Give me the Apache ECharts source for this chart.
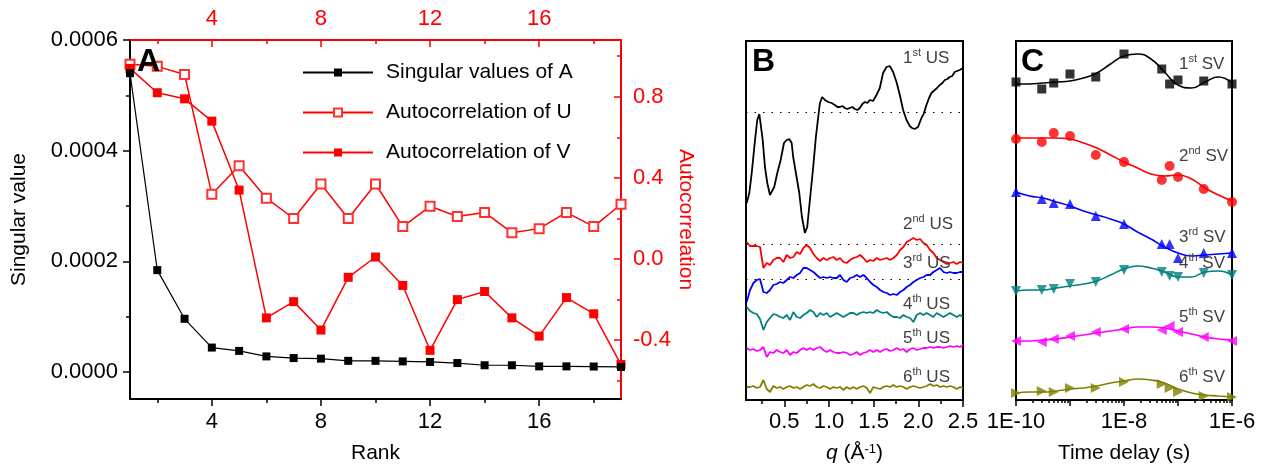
<!DOCTYPE html>
<html>
<head>
<meta charset="utf-8">
<script src="https://cdn.jsdelivr.net/npm/echarts@6/dist/echarts.min.js"></script>
<style>
  html, body { margin: 0; padding: 0; background: #fff; }
  #chart { width: 1263px; height: 465px; }
</style>
</head>
<body>
<div id="chart"></div>
<script>
// ---- panel A: SVD rank analysis ----
const ranks = [1, 2, 3, 4, 5, 6, 7, 8, 9, 10, 11, 12, 13, 14, 15, 16, 17, 18, 19]
const singularA = [0.00054, 0.000184, 0.000096, 0.000044, 0.000038, 0.000028, 0.000025, 0.000024, 0.000020, 0.000020,
  0.000019, 0.000018, 0.000016, 0.000012, 0.000012, 0.000010, 0.000010, 0.0000097, 0.000009]
const autoU = [0.96, 0.95, 0.91, 0.32, 0.46, 0.30, 0.20, 0.37, 0.20, 0.37, 0.16, 0.26, 0.21, 0.23, 0.13, 0.15, 0.23, 0.16, 0.27]
const autoV = [0.94, 0.82, 0.79, 0.68, 0.34, -0.29, -0.21, -0.35, -0.09, 0.01, -0.13, -0.45, -0.20, -0.16, -0.29, -0.38, -0.19, -0.27, -0.52]

const rankTicks = [4, 8, 12, 16]
const rankMinor = [2, 6, 10, 14, 18]
const svTicks = [0, 0.0002, 0.0004, 0.0006]
const svMinor = [0.0001, 0.0003, 0.0005]
const acTicks = [-0.4, 0, 0.4, 0.8]
const acMinor = [-0.6, -0.2, 0.2, 0.6, 1.0]

// ---- panel B: left singular vectors (offset, a.u.) ----
const qUS1 = [0.080, 0.109, 0.136, 0.173, 0.198, 0.221, 0.240, 0.259, 0.284, 0.310, 0.340, 0.359, 0.388, 0.422, 0.460,
  0.497, 0.527, 0.556, 0.583, 0.600, 0.638, 0.668, 0.698, 0.731, 0.757, 0.787, 0.824, 0.854, 0.880, 0.899, 0.925,
  0.940, 0.955, 0.970, 0.992, 1.010, 1.030, 1.048, 1.066, 1.094, 1.122, 1.150, 1.178, 1.206, 1.234, 1.262, 1.290,
  1.318, 1.346, 1.374, 1.402, 1.430, 1.457, 1.494, 1.532, 1.569, 1.606, 1.644, 1.681, 1.718, 1.756, 1.793, 1.830,
  1.868, 1.904, 1.930, 1.960, 1.997, 2.035, 2.060, 2.091, 2.120, 2.147, 2.184, 2.210, 2.240, 2.270, 2.296, 2.325,
  2.351, 2.380, 2.407, 2.435, 2.463, 2.500]
const us1 = [197, 207, 227, 260, 280, 286, 285, 260, 233, 217, 205, 207, 213, 227, 240,
  257, 260, 261, 257, 243, 223, 207, 183, 167, 173, 200, 233, 263, 283, 297, 303,
  301, 300, 302, 298, 296, 297, 298, 295, 293, 293, 294, 292, 291, 292, 293, 291,
  290, 292, 296, 298, 297, 300, 299, 305, 312, 327, 333, 334, 328, 318, 305, 290,
  280, 274, 272, 271, 273, 282, 286, 295, 302, 307, 310, 312, 315, 317, 320, 321,
  323, 324, 328, 329, 330, 332]

const qGrid = [0.080, 0.117, 0.155, 0.192, 0.229, 0.267, 0.304, 0.341, 0.378, 0.416,
  0.453, 0.490, 0.528, 0.565, 0.602, 0.640, 0.677, 0.714, 0.751, 0.789,
  0.826, 0.863, 0.901, 0.938, 0.975, 1.013, 1.050, 1.087, 1.124, 1.162,
  1.199, 1.236, 1.274, 1.311, 1.348, 1.386, 1.423, 1.460, 1.497, 1.535,
  1.572, 1.609, 1.647, 1.684, 1.721, 1.759, 1.796, 1.833, 1.870, 1.908,
  1.945, 1.982, 2.020, 2.057, 2.094, 2.132, 2.169, 2.206, 2.243, 2.281,
  2.318, 2.355, 2.393, 2.430, 2.467, 2.500]
const us2 = [158, 154, 154, 154, 153, 132, 137, 135, 140, 142,
  142, 138, 145, 142, 143, 148, 146, 152, 155, 152,
  146, 142, 139, 142, 140, 142, 143, 140, 142, 138,
  137, 140, 142, 143, 145, 142, 138, 140, 139, 142,
  140, 141, 142, 140, 142, 145, 150, 153, 158, 160,
  162, 160, 161, 157, 155, 150, 147, 142, 140, 138,
  136, 137, 138, 136, 138, 137]
const us3 = [98, 110, 117, 120, 121, 108, 107, 110, 115, 116,
  118, 117, 120, 123, 122, 125, 127, 132, 132, 130,
  128, 125, 122, 123, 122, 123, 122, 122, 125, 120,
  118, 122, 123, 125, 123, 125, 122, 118, 115, 113,
  110, 108, 107, 105, 106, 105, 108, 110, 113, 115,
  118, 120, 122, 123, 125, 125, 128, 130, 132, 128,
  127, 128, 127, 127, 128, 128]
const us4 = [93, 89, 87, 86, 81, 70, 78, 82, 86, 85,
  83, 82, 85, 80, 88, 83, 82, 85, 87, 90,
  88, 83, 87, 85, 87, 83, 85, 87, 85, 83,
  85, 87, 87, 85, 87, 88, 87, 88, 87, 90,
  88, 87, 88, 85, 83, 83, 82, 85, 83, 82,
  78, 85, 87, 85, 87, 85, 83, 87, 85, 83,
  85, 87, 85, 83, 85, 83]
const us5 = [52, 50, 51, 49, 50, 53, 43, 48, 47, 50,
  48, 47, 50, 45, 48, 47, 50, 52, 50, 52,
  50, 52, 53, 50, 48, 50, 48, 47, 47, 48,
  47, 45, 46, 48, 45, 47, 48, 50, 48, 50,
  48, 50, 51, 49, 50, 52, 50, 51, 48, 51,
  52, 50, 51, 52, 52, 53, 52, 53, 53, 52,
  53, 54, 53, 54, 53, 55]
const us6 = [13, 13, 14, 12, 13, 20, 11, 8, 14, 12,
  13, 11, 13, 14, 12, 13, 11, 13, 15, 14,
  16, 13, 12, 14, 13, 11, 13, 12, 13, 10,
  13, 11, 13, 11, 13, 14, 12, 7, 13, 12,
  11, 13, 14, 13, 15, 13, 14, 13, 11, 13,
  14, 13, 12, 13, 14, 16, 14, 15, 13, 14,
  13, 14, 13, 11, 13, 12]
const usBaselines = [288, 156, 121]

const qTicks = [0.5, 1.0, 1.5, 2.0, 2.5]
const qMinor = [0.25, 0.75, 1.25, 1.75, 2.25]

// ---- panel C: right singular vectors vs time delay ----
const tDelay = [1e-10, 3e-10, 5e-10, 1e-9, 3e-9, 1e-8, 5e-8, 7e-8, 1e-7, 3e-7, 1e-6]
const sv1 = [318, 311, 317, 326, 323, 346, 331, 316, 320, 319, 316]
const sv2 = [261, 258, 267, 264, 245, 238, 220, 234, 223, 211, 198]
const sv3 = [208, 201, 197, 196, 184, 176, 156, 156, 142, 147, 147]
const sv4 = [109, 110, 111, 116, 118, 130, 128, 124, 123, 127, 125]
const sv5 = [59, 58, 61, 64, 68, 71, 70, 74, 68, 63, 59]
const sv6 = [7, 9, 8, 12, 12, 18, 16, 12, 8, 4, 3]

const tFit = [1e-10, 1.78e-10, 3.16e-10, 5.62e-10, 1e-9, 1.78e-9, 3.16e-9, 5.62e-9, 1e-8,
  1.78e-8, 3.16e-8, 5.62e-8, 1e-7, 1.78e-7, 3.16e-7, 5.62e-7, 1e-6]
const fit1 = [316, 316, 317, 318, 319, 322, 327, 336, 344, 346, 341, 328, 315, 312, 318, 323, 317]
const fit2 = [262, 262, 262, 262, 261, 257, 252, 245, 238, 232, 226, 224, 225, 221, 212, 205, 199]
const fit3 = [208, 204, 202, 198, 194, 189, 185, 181, 176, 168, 161, 153, 147, 144, 145, 146, 147]
const fit4 = [109, 110, 110, 112, 114, 116, 119, 125, 131, 134, 132, 128, 123, 123, 128, 129, 125]
const fit5 = [59, 59, 60, 61, 63, 65, 67, 69, 71, 73, 73, 72, 69, 66, 63, 61, 60]
const fit6 = [7, 8, 8, 9, 11, 12, 14, 17, 19, 21, 20, 17, 11, 7, 5, 4, 3]

const tTicks = [1e-10, 1e-9, 1e-8, 1e-7, 1e-6]
const tLabels = [1e-10, 1e-8, 1e-6]
const tMinor = [2e-10, 3e-10, 4e-10, 5e-10, 6e-10, 7e-10, 8e-10, 9e-10,
  2e-9, 3e-9, 4e-9, 5e-9, 6e-9, 7e-9, 8e-9, 9e-9,
  2e-8, 3e-8, 4e-8, 5e-8, 6e-8, 7e-8, 8e-8, 9e-8,
  2e-7, 3e-7, 4e-7, 5e-7, 6e-7, 7e-7, 8e-7, 9e-7]

const FONT = 'Liberation Sans, Arial, sans-serif'
const usColors = ['#000000', '#ff0000', '#0000ff', '#008080', '#ff00ff', '#808000']

function zip (xs, ys) {
  return ys.map((y, i) => [xs[i], y])
}

// an axis that only draws ticks (and optionally labels) at given values
function ax (o) {
  const base = {
    type: 'value',
    splitLine: { show: false },
    axisLine: { show: false, onZero: false },
    axisTick: { show: false },
    axisLabel: { show: false }
  }
  return Object.assign(base, o)
}
function line (color) {
  return { show: true, onZero: false, lineStyle: { color: color, width: 2 } }
}
function ticks (values, len, inside, color) {
  return { show: true, customValues: values, length: len, inside: inside, lineStyle: { color: color, width: 1.5 } }
}
function labels (values, color, fmt, margin) {
  return { show: true, customValues: values, color: color, fontSize: 22, fontFamily: FONT, margin: margin, formatter: fmt }
}

const chart = echarts.init(document.getElementById('chart'), null, { renderer: 'canvas' })

const option = {
  animation: false,
  backgroundColor: '#fff',
  grid: [
    { left: 130, top: 40, width: 491, height: 359, outerBoundsMode: 'none' },
    { left: 746, top: 41, width: 217, height: 359, show: true, borderColor: '#000', borderWidth: 2, outerBoundsMode: 'none' },
    { left: 1016, top: 41, width: 216, height: 359, show: true, borderColor: '#000', borderWidth: 2, outerBoundsMode: 'none' }
  ],
  legend: {
    data: ['Singular values of A', 'Autocorrelation of U', 'Autocorrelation of V'],
    orient: 'vertical',
    left: 302,
    top: 62,
    padding: 0,
    itemWidth: 70,
    itemHeight: 10,
    itemGap: 19,
    textStyle: { fontSize: 21, color: '#000', fontFamily: FONT, padding: [0, 0, 0, 8] }
  },
  xAxis: [
    ax({ gridIndex: 0, position: 'bottom', min: 1, max: 19,
      axisLine: line('#000'), axisTick: ticks(rankTicks, 7, false, '#000'),
      axisLabel: labels(rankTicks, '#000', v => String(v), 12),
      name: 'Rank', nameLocation: 'middle', nameGap: 44,
      nameTextStyle: { fontSize: 21, color: '#000', fontFamily: FONT } }),
    ax({ gridIndex: 0, position: 'bottom', min: 1, max: 19, axisTick: ticks(rankMinor, 4, false, '#000') }),
    ax({ gridIndex: 0, position: 'top', min: 1, max: 19,
      axisLine: line('#ff0000'), axisTick: ticks(rankTicks, 7, true, '#ff0000'),
      axisLabel: labels(rankTicks, '#ff0000', v => String(v), 10) }),
    ax({ gridIndex: 0, position: 'top', min: 1, max: 19, axisTick: ticks(rankMinor, 4, true, '#ff0000') }),
    ax({ gridIndex: 1, position: 'bottom', min: 0.072, max: 2.5,
      axisTick: ticks(qTicks, 7, false, '#000'),
      axisLabel: labels(qTicks, '#000', v => v.toFixed(1), 11),
      name: '{i|q} (Å{s|-1})', nameLocation: 'middle', nameGap: 43,
      nameTextStyle: { fontSize: 21, color: '#000', fontFamily: FONT,
        rich: { i: { fontSize: 21, fontStyle: 'italic', fontFamily: FONT, color: '#000' },
          s: { fontSize: 13, verticalAlign: 'top', fontFamily: FONT, color: '#000' } } } }),
    ax({ gridIndex: 1, position: 'bottom', min: 0.072, max: 2.5, axisTick: ticks(qMinor, 4, false, '#000') }),
    ax({ gridIndex: 2, type: 'log', logBase: 10, position: 'bottom', min: 1e-10, max: 1e-6,
      axisTick: ticks(tTicks, 6, false, '#000'),
      axisLabel: labels(tLabels, '#000', v => '1E' + Math.round(Math.log10(v)), 11),
      name: 'Time delay (s)', nameLocation: 'middle', nameGap: 43,
      nameTextStyle: { fontSize: 21, color: '#000', fontFamily: FONT } }),
    ax({ gridIndex: 2, type: 'log', logBase: 10, position: 'bottom', min: 1e-10, max: 1e-6,
      axisTick: ticks(tMinor, 3, false, '#000') })
  ],
  yAxis: [
    ax({ gridIndex: 0, position: 'left', min: -0.000049, max: 0.0006,
      axisLine: line('#000'), axisTick: ticks(svTicks, 7, false, '#000'),
      axisLabel: labels(svTicks, '#000', v => v.toFixed(4), 12),
      name: 'Singular value', nameLocation: 'middle', nameGap: 100,
      nameTextStyle: { fontSize: 21, color: '#000', fontFamily: FONT } }),
    ax({ gridIndex: 0, position: 'right', min: -0.69, max: 1.08,
      axisLine: line('#ff0000'), axisTick: ticks(acTicks, 7, true, '#ff0000'),
      axisLabel: labels(acTicks, '#ff0000', v => v.toFixed(1), 12),
      name: 'Autocorrelation', nameLocation: 'middle', nameGap: 52, nameRotate: -90,
      nameTextStyle: { fontSize: 21, color: '#ff0000', fontFamily: FONT } }),
    ax({ gridIndex: 0, position: 'left', min: -0.000049, max: 0.0006, axisTick: ticks(svMinor, 4, false, '#000') }),
    ax({ gridIndex: 0, position: 'right', min: -0.69, max: 1.08, axisTick: ticks(acMinor, 4, true, '#ff0000') }),
    ax({ gridIndex: 1, min: 0, max: 359 }),
    ax({ gridIndex: 2, min: 0, max: 359 })
  ],
  series: [],
  graphic: []
}

// panel A
option.series.push(
  { name: 'Singular values of A', type: 'line', xAxisIndex: 0, yAxisIndex: 0, data: zip(ranks, singularA),
    symbol: 'rect', symbolSize: 8, itemStyle: { color: '#000' }, lineStyle: { color: '#000', width: 1.2 }, z: 3 },
  { name: 'Autocorrelation of U', type: 'line', xAxisIndex: 0, yAxisIndex: 1, data: zip(ranks, autoU),
    symbol: 'emptyRect', symbolSize: 9, itemStyle: { color: '#ff3030', borderWidth: 1.2 },
    lineStyle: { color: '#ff0000', width: 1.5 }, z: 2 },
  { name: 'Autocorrelation of V', type: 'line', xAxisIndex: 0, yAxisIndex: 1, data: zip(ranks, autoV),
    symbol: 'rect', symbolSize: 9, itemStyle: { color: '#ff0000' }, lineStyle: { color: '#ff0000', width: 1.5 }, z: 2 }
)

// panel B
const usData = [zip(qUS1, us1), zip(qGrid, us2), zip(qGrid, us3), zip(qGrid, us4), zip(qGrid, us5), zip(qGrid, us6)]
usData.forEach((d, i) => {
  const s = { type: 'line', xAxisIndex: 4, yAxisIndex: 4, data: d, showSymbol: false,
    lineStyle: { color: usColors[i], width: 1.8 }, z: 3 }
  if (i < usBaselines.length) {
    s.markLine = { silent: true, symbol: 'none', label: { show: false },
      lineStyle: { color: '#000', width: 1.2, type: [1.5, 7] }, data: [{ yAxis: usBaselines[i] }] }
  }
  option.series.push(s)
})

// panel C
const svData = [sv1, sv2, sv3, sv4, sv5, sv6]
const fitData = [fit1, fit2, fit3, fit4, fit5, fit6]
const svSymbols = ['rect', 'circle', 'triangle', 'triangle', 'triangle', 'triangle']
const svRotate = [0, 0, 0, 180, 90, -90]
svData.forEach((d, i) => {
  option.series.push({ type: 'line', xAxisIndex: 6, yAxisIndex: 5, data: zip(tFit, fitData[i]), smooth: true,
    showSymbol: false, lineStyle: { color: usColors[i], width: 1.6 }, z: 2 })
  option.series.push({ type: 'scatter', xAxisIndex: 6, yAxisIndex: 5, data: zip(tDelay, d),
    symbol: svSymbols[i], symbolRotate: svRotate[i], symbolSize: i === 0 ? 9 : 10,
    itemStyle: { color: usColors[i] }, z: 3 })
})

// panel letters and vector labels
const letterStyle = { font: 'bold 32px ' + FONT, fill: '#000' }
option.graphic.push(
  { type: 'text', x: 137, y: 46, style: Object.assign({ text: 'A' }, letterStyle), z: 10 },
  { type: 'text', x: 752, y: 46, style: Object.assign({ text: 'B' }, letterStyle), z: 10 },
  { type: 'text', x: 1021, y: 46, style: Object.assign({ text: 'C' }, letterStyle), z: 10 }
)
const ords = [['1', 'st'], ['2', 'nd'], ['3', 'rd'], ['4', 'th'], ['5', 'th'], ['6', 'th']]
const usLabelY = [57, 223, 262, 303, 337, 376]
const svLabelY = [63, 155, 236, 262, 316, 376]
const rich = {
  n: { fontSize: 17, fontFamily: FONT, fill: '#404040', verticalAlign: 'bottom', lineHeight: 20 },
  s: { fontSize: 11, fontFamily: FONT, fill: '#404040', verticalAlign: 'top', lineHeight: 20 }
}
ords.forEach((o, i) => {
  option.graphic.push({ type: 'text', x: 903, y: usLabelY[i], z: 10,
    style: { text: '{n|' + o[0] + '}{s|' + o[1] + '}{n| US}', rich: rich, verticalAlign: 'middle' } })
  option.graphic.push({ type: 'text', x: 1179, y: svLabelY[i], z: 10,
    style: { text: '{n|' + o[0] + '}{s|' + o[1] + '}{n| SV}', rich: rich, verticalAlign: 'middle' } })
})

chart.setOption(option)
</script>
</body>
</html>
